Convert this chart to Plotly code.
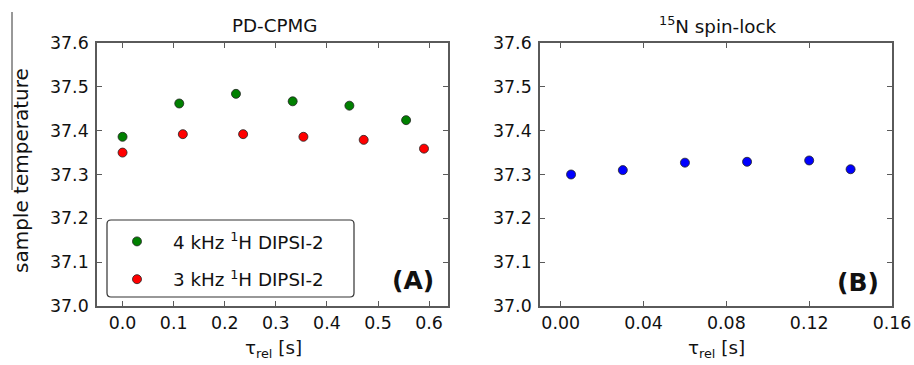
import plotly.graph_objects as go

# PD-CPMG relaxation delays [s] and measured sample temperatures
tau_4khz = [0.0, 0.111, 0.222, 0.333, 0.444, 0.555]
temp_4khz = [37.386, 37.462, 37.484, 37.467, 37.457, 37.424]
tau_3khz = [0.0, 0.118, 0.236, 0.354, 0.472, 0.590]
temp_3khz = [37.350, 37.392, 37.392, 37.386, 37.379, 37.359]

# 15N spin-lock relaxation delays [s] and temperatures
tau_sl = [0.005, 0.030, 0.060, 0.090, 0.120, 0.140]
temp_sl = [37.300, 37.310, 37.327, 37.329, 37.332, 37.312]

y_ticks = [37.0, 37.1, 37.2, 37.3, 37.4, 37.5, 37.6]
x_ticks_a = [0.0, 0.1, 0.2, 0.3, 0.4, 0.5, 0.6]
x_ticks_b = [0.00, 0.04, 0.08, 0.12, 0.16]

W, H = 914, 365
FONT = "DejaVu Sans, Liberation Sans, sans-serif"
FRAME = "#5a5a5a"

fig = go.Figure()

marker_line = dict(color="#222222", width=0.8)
fig.add_trace(go.Scatter(
    x=tau_4khz, y=temp_4khz, mode="markers", name="4 kHz <sup>1</sup>H DIPSI-2",
    legendgroup="g4", marker=dict(color="#008000", size=9, line=marker_line),
    xaxis="x", yaxis="y"))
fig.add_trace(go.Scatter(
    x=tau_3khz, y=temp_3khz, mode="markers", name="3 kHz <sup>1</sup>H DIPSI-2",
    legendgroup="g3", marker=dict(color="#ff0000", size=9, line=marker_line),
    xaxis="x", yaxis="y"))
fig.add_trace(go.Scatter(
    x=tau_sl, y=temp_sl, mode="markers", name="15N spin-lock", showlegend=False,
    marker=dict(color="#0000ff", size=9, line=marker_line),
    xaxis="x2", yaxis="y2"))

def px_x(p):
    return p / W

def px_y(p):
    return 1 - p / H

tick_font = dict(family=FONT, size=17.4, color="#111111")
common_axis = dict(
    showline=True, linecolor=FRAME, linewidth=1.6, mirror="ticks",
    ticks="inside", ticklen=5, tickwidth=1, tickcolor=FRAME,
    showgrid=False, zeroline=False, tickfont=tick_font, automargin=False,
)
y_extra = dict(ticklabelstandoff=3)

fig.update_layout(
    template="none",
    width=W, height=H,
    margin=dict(l=0, r=0, t=0, b=0, pad=0),
    paper_bgcolor="white", plot_bgcolor="white",
    font=dict(family=FONT, color="#111111"),
    xaxis=dict(domain=[px_x(97), px_x(448)], range=[-0.05, 0.637],
               tickvals=x_ticks_a, ticktext=[f"{v:.1f}" for v in x_ticks_a],
               anchor="y", **common_axis),
    yaxis=dict(domain=[px_y(306), px_y(43)], range=[37.0, 37.6],
               tickvals=y_ticks, ticktext=[f"{v:.1f}" for v in y_ticks],
               anchor="x", **common_axis, **y_extra),
    xaxis2=dict(domain=[px_x(540), px_x(892)], range=[-0.01, 0.16],
                tickvals=x_ticks_b, ticktext=[f"{v:.2f}" for v in x_ticks_b],
                anchor="y2", **common_axis),
    yaxis2=dict(domain=[px_y(306), px_y(43)], range=[37.0, 37.6],
                tickvals=y_ticks, ticktext=[f"{v:.1f}" for v in y_ticks],
                anchor="x2", **common_axis, **y_extra),
    showlegend=True,
    legend=dict(
        x=px_x(101), y=px_y(223), xanchor="left", yanchor="top",
        bgcolor="rgba(0,0,0,0)", borderwidth=0,
        font=dict(family=FONT, size=18.3, color="#111111"),
        tracegroupgap=11, itemwidth=62,
    ),
)

# Rounded legend frame
x0, x1, y0, y1 = px_x(107), px_x(354), px_y(297), px_y(220)
rx, ry = 4 / W, 4 / H
path = (f"M {x0+rx},{y1} L {x1-rx},{y1} Q {x1},{y1} {x1},{y1-ry} "
        f"L {x1},{y0+ry} Q {x1},{y0} {x1-rx},{y0} L {x0+rx},{y0} "
        f"Q {x0},{y0} {x0},{y0+ry} L {x0},{y1-ry} Q {x0},{y1} {x0+rx},{y1} Z")
fig.add_shape(type="path", path=path, xref="paper", yref="paper",
              line=dict(color="#333333", width=1.2), fillcolor="rgba(255,255,255,0)",
              layer="above")

# Thin vertical rule at far left
fig.add_shape(type="line", xref="paper", yref="paper",
              x0=px_x(12), x1=px_x(12), y0=px_y(12), y1=px_y(190),
              line=dict(color="#333333", width=1))

def label(text, cx, cy, size=18.3, angle=0, bold=False):
    return dict(text=f"<b>{text}</b>" if bold else text,
                x=px_x(cx), y=px_y(cy), xref="paper", yref="paper",
                xanchor="center", yanchor="middle", showarrow=False,
                textangle=angle, font=dict(family=FONT, size=size, color="#111111"))

ann = [
    label("PD-CPMG", 274, 25),
    label("<sup>15</sup>N spin-lock", 717, 25),
    label("sample temperature", 21, 171, size=20, angle=-90),
    label("τ<sub>rel</sub> [s]", 273, 349),
    label("τ<sub>rel</sub> [s]", 716, 349),
    label("(A)", 413, 280, size=25, bold=True),
    label("(B)", 858, 282, size=25, bold=True),
]
fig.update_layout(annotations=ann)

fig.write_html("out.html")
